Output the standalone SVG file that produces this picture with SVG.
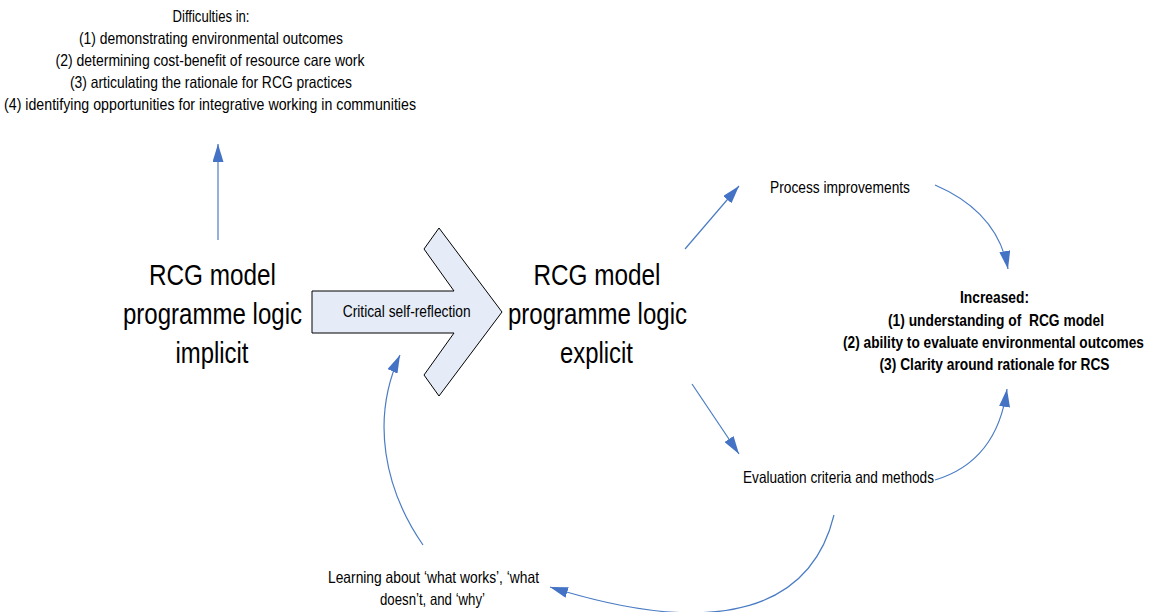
<svg xmlns="http://www.w3.org/2000/svg" width="1154" height="612" viewBox="0 0 1154 612">
<style>
text{font-family:"Liberation Sans Narrow","Liberation Sans",Arial,sans-serif;fill:#000;text-anchor:middle}
.s{font-size:16.5px}
.b{font-size:16.5px;font-weight:bold}
.w{font-family:"Liberation Sans",Arial,sans-serif}
.big{font-size:30px}
.c{fill:none;stroke:#4A7CC4;stroke-width:1.2}
</style>
<defs>
<marker id="ah" markerUnits="userSpaceOnUse" markerWidth="18" markerHeight="11" refX="18" refY="5.5" orient="auto">
<path d="M0,0 L18,5.5 L0,11 Z" fill="#4472C4"/>
</marker>
</defs>
<rect width="1154" height="612" fill="#fff"/>
<g id="connectors">
<path class="c" d="M218,240 L218,144" marker-end="url(#ah)"/>
<path class="c" d="M685,249 L739,186" marker-end="url(#ah)"/>
<path class="c" d="M935,185 C970,200 1000,225 1008,269" marker-end="url(#ah)"/>
<path class="c" d="M692,384 L739,454" marker-end="url(#ah)"/>
<path class="c" d="M935,480 C975,468 1000,440 1007,389" marker-end="url(#ah)"/>
<path class="c" d="M834,515 C812,605 725,642 550,587" marker-end="url(#ah)"/>
<path class="c" d="M423,545 C385,490 370,420 400,355" marker-end="url(#ah)"/>
</g>
<g id="node-difficulties">
<text class="s" x="211" y="22" textLength="77" lengthAdjust="spacingAndGlyphs">Difficulties in:</text>
<text class="s" x="211" y="44" textLength="264" lengthAdjust="spacingAndGlyphs">(1) demonstrating environmental outcomes</text>
<text class="s" x="210" y="66" textLength="309" lengthAdjust="spacingAndGlyphs">(2) determining cost-benefit of resource care work</text>
<text class="s" x="211" y="88" textLength="282" lengthAdjust="spacingAndGlyphs">(3) articulating the rationale for RCG practices</text>
<text class="s" x="210" y="110" textLength="412" lengthAdjust="spacingAndGlyphs">(4) identifying opportunities for integrative working in communities</text>
</g>
<g id="node-implicit">
<text class="big" x="212.5" y="285" textLength="127" lengthAdjust="spacingAndGlyphs">RCG model</text>
<text class="big" x="212.5" y="324" textLength="179" lengthAdjust="spacingAndGlyphs">programme logic</text>
<text class="big" x="212" y="363" textLength="73" lengthAdjust="spacingAndGlyphs">implicit</text>
</g>
<g id="node-reflection">
<path d="M312,291 L454,291 L424,249 L439,228 L502,312 L439,396 L424,375 L454,333 L312,333 Z" fill="#E6ECF7" stroke="#000" stroke-width="1"/>
<text class="s" x="406.7" y="317" textLength="128" lengthAdjust="spacingAndGlyphs">Critical self-reflection</text>
</g>
<g id="node-explicit">
<text class="big" x="597" y="285" textLength="127" lengthAdjust="spacingAndGlyphs">RCG model</text>
<text class="big" x="597.5" y="324" textLength="179" lengthAdjust="spacingAndGlyphs">programme logic</text>
<text class="big" x="596.5" y="363" textLength="73" lengthAdjust="spacingAndGlyphs">explicit</text>
</g>
<g id="node-process">
<text class="s" x="840" y="193" textLength="140" lengthAdjust="spacingAndGlyphs">Process improvements</text>
</g>
<g id="node-increased">
<text class="b" x="994.5" y="303" textLength="69" lengthAdjust="spacingAndGlyphs">Increased:</text>
<text class="b" x="996" y="326" textLength="216" lengthAdjust="spacingAndGlyphs" xml:space="preserve" style="white-space:pre">(1) understanding of  RCG model</text>
<text class="b w" x="0" y="0" transform="translate(993.5,348) scale(0.82,1)" textLength="367" lengthAdjust="spacingAndGlyphs">(2) ability to evaluate environmental outcomes</text>
<text class="b" x="994.5" y="370" textLength="230" lengthAdjust="spacingAndGlyphs">(3) Clarity around rationale for RCS</text>
</g>
<g id="node-evaluation">
<text class="s" x="838.5" y="483" textLength="191" lengthAdjust="spacingAndGlyphs">Evaluation criteria and methods</text>
</g>
<g id="node-learning">
<text class="s" x="433.5" y="583" textLength="211" lengthAdjust="spacingAndGlyphs">Learning about ‘what works’, ‘what</text>
<text class="s" x="432.5" y="605" textLength="105" lengthAdjust="spacingAndGlyphs">doesn’t, and ‘why’</text>
</g>
</svg>
